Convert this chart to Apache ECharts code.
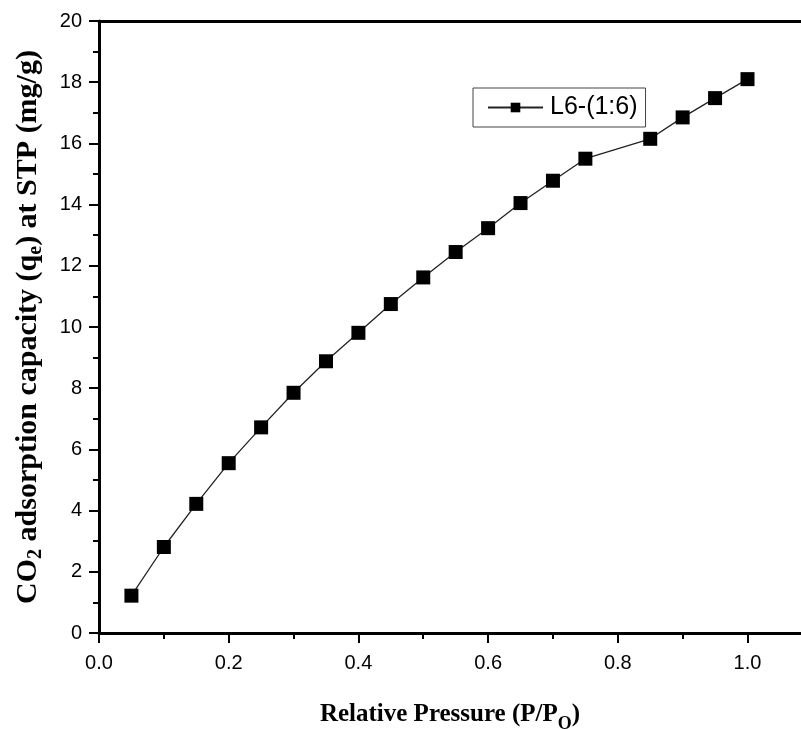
<!DOCTYPE html>
<html>
<head>
<meta charset="utf-8">
<script src="https://cdn.jsdelivr.net/npm/echarts@6/dist/echarts.min.js"></script>
<style>html,body{margin:0;padding:0;background:#fff}#c{width:801px;height:729px}</style>
</head>
<body>
<div id="c"></div>
<script>
const seriesName = 'L6-(1:6)';
const pressure = [0.05,0.10,0.15,0.20,0.25,0.30,0.35,0.40,0.45,0.50,0.55,0.60,0.65,0.70,0.75,0.85,0.90,0.95,1.00];
const capacity = [1.22,2.81,4.22,5.55,6.72,7.85,8.88,9.81,10.75,11.62,12.45,13.23,14.05,14.78,15.50,16.15,16.85,17.48,18.10];
const xTicks = [0.0,0.2,0.4,0.6,0.8,1.0];
const yTicks = [0,2,4,6,8,10,12,14,16,18,20];

const chart = echarts.init(document.getElementById('c'));
const axisFont = {fontFamily:'Liberation Sans, Arial', fontSize:20, color:'#000'};
chart.setOption({
  animation:false,
  backgroundColor:'#fff',
  grid:{left:99, top:21, right:0, bottom:96, containLabel:false, outerBoundsMode:'none'},
  legend:{
    show:true, left:473, top:88, orient:'horizontal',
    borderColor:'#444', borderWidth:1, padding:[7,8,7,14],
    itemWidth:55, itemHeight:12, itemGap:0,
    textStyle:{fontFamily:'Liberation Sans, Arial', fontSize:25, color:'#000', padding:[0,0,0,2]}
  },
  xAxis:[{
    type:'value', min:0, max:1.0825, interval:0.2,
    name:'{a|Relative Pressure (P/P}{s|O}{a|)}',
    nameLocation:'middle', nameGap:64,
    nameTextStyle:{rich:{
      a:{fontFamily:'Liberation Serif, Times New Roman', fontWeight:'bold', fontSize:25, color:'#000'},
      s:{fontFamily:'Liberation Serif, Times New Roman', fontWeight:'bold', fontSize:18, color:'#000', padding:[18,0,0,0]}
    }},
    axisLine:{show:true, onZero:false, lineStyle:{color:'#000', width:3}},
    axisTick:{show:true, inside:false, length:10, customValues:xTicks, lineStyle:{color:'#000', width:2}},
    minorTick:{show:true, splitNumber:2, length:6, lineStyle:{color:'#000', width:2}},
    splitLine:{show:false},
    axisLabel:Object.assign({margin:20, customValues:xTicks, formatter:function(v){
      return Number(v).toFixed(1);
    }}, axisFont)
  },{
    type:'value', position:'top', min:0, max:1.0825,
    axisLine:{show:true, onZero:false, lineStyle:{color:'#000', width:3}},
    axisTick:{show:false}, axisLabel:{show:false}, splitLine:{show:false}
  }],
  yAxis:{
    type:'value', min:0, max:20, interval:2,
    name:'{a|CO}{s|2}{a| adsorption capacity (q}{s|e}{a|) at STP (mg/g)}',
    nameLocation:'middle', nameGap:53, nameRotate:90,
    nameTextStyle:{rich:{
      a:{fontFamily:'Liberation Serif, Times New Roman', fontWeight:'bold', fontSize:30, color:'#000'},
      s:{fontFamily:'Liberation Serif, Times New Roman', fontWeight:'bold', fontSize:20, color:'#000', padding:[16,0,0,0]}
    }},
    axisLine:{show:true, onZero:false, lineStyle:{color:'#000', width:3}},
    axisTick:{show:true, inside:false, length:10, lineStyle:{color:'#000', width:2}},
    minorTick:{show:true, splitNumber:2, length:6, lineStyle:{color:'#000', width:2}},
    splitLine:{show:false},
    axisLabel:Object.assign({margin:17, formatter:function(v){return String(v);}}, axisFont)
  },
  series:[{
    name:seriesName, type:'line',
    data:pressure.map((p,i)=>[p,capacity[i]]),
    symbol:'rect', symbolSize:14,
    lineStyle:{color:'#222', width:1.3},
    itemStyle:{color:'#000'}
  }]
});
</script>
</body>
</html>
